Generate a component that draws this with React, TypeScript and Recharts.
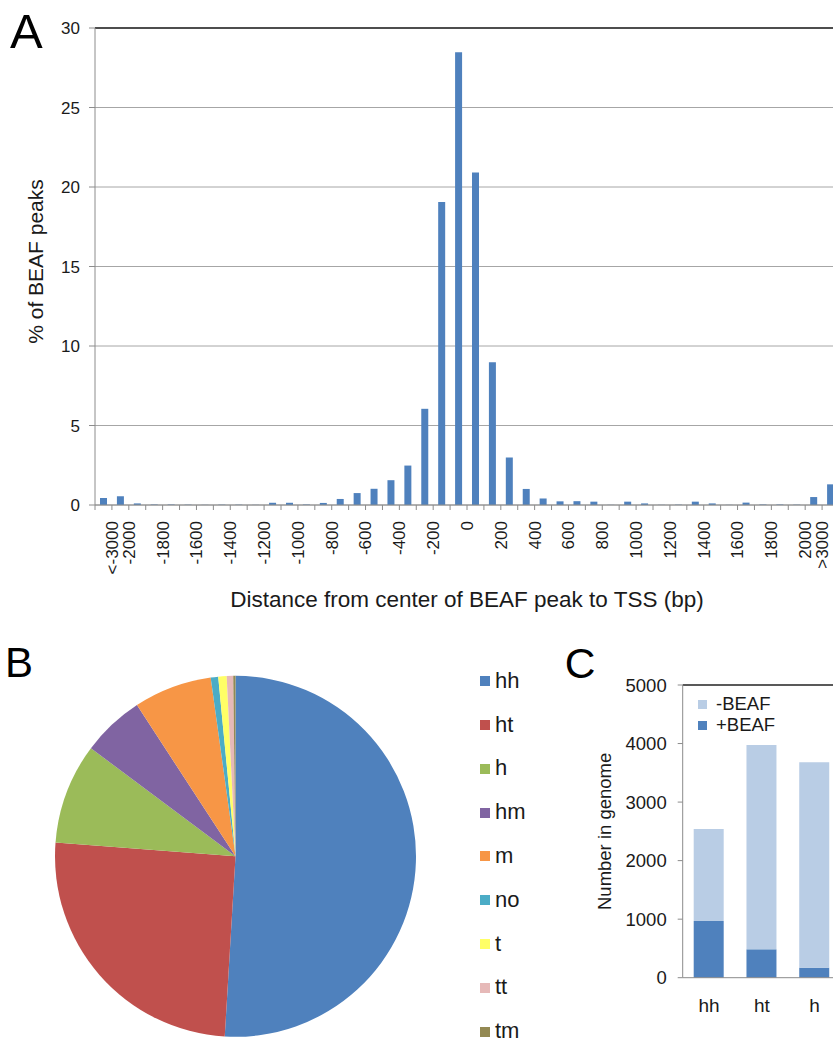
import React from 'react';
import {
  BarChart, Bar, XAxis, YAxis, CartesianGrid, ReferenceLine, Label,
  PieChart, Pie, Cell,
} from 'recharts';

const FONT = '"Liberation Sans", Arial, Helvetica, sans-serif';
const INK = '#1a1a1a';
const AXIS = '#8c8c8c';

// ---------- Panel A data ----------
const distanceBins = [
  '<-3000', '-3000', '-2000', '-1900', '-1800', '-1700', '-1600', '-1500', '-1400', '-1300',
  '-1200', '-1100', '-1000', '-900', '-800', '-700', '-600', '-500', '-400', '-300',
  '-200', '-100', '0', '100', '200', '300', '400', '500', '600', '700',
  '800', '900', '1000', '1100', '1200', '1300', '1400', '1500', '1600', '1700',
  '1800', '1900', '2000', '>3000',
];
const pctPeaks = [
  0.44, 0.55, 0.10, 0.03, 0.03, 0.02, 0.01, 0.02, 0.02, 0.01,
  0.14, 0.14, 0.03, 0.13, 0.38, 0.75, 1.02, 1.56, 2.48, 6.05,
  19.05, 28.48, 20.91, 8.98, 2.98, 1.01, 0.41, 0.23, 0.24, 0.21,
  0.01, 0.21, 0.10, 0.01, 0.02, 0.21, 0.10, 0.01, 0.15, 0.03,
  0.03, 0.02, 0.50, 1.30,
];
// labels drawn at the bin boundaries (45 boundaries for 44 bins)
const tickLabelsA = [
  '', '<-3000', '-2000', '', '-1800', '', '-1600', '', '-1400', '',
  '-1200', '', '-1000', '', '-800', '', '-600', '', '-400', '',
  '-200', '', '0', '', '200', '', '400', '', '600', '',
  '800', '', '1000', '', '1200', '', '1400', '', '1600', '',
  '1800', '', '2000', '>3000', '',
];
const yTicksA = [0, 5, 10, 15, 20, 25, 30];

// ---------- Panel B data ----------
const pieNames = ['hh', 'ht', 'h', 'hm', 'm', 'no', 't', 'tt', 'tm'];
const pieValues = [51.0, 25.3, 9.0, 5.6, 7.0, 0.67, 0.75, 0.58, 0.2];
const pieColors = ['#4f81bd', '#c0504d', '#9bbb59', '#8064a2', '#f79646', '#4bacc6', '#ffff66', '#e6b9b8', '#938953'];

// ---------- Panel C data ----------
const genomeCats = ['hh', 'ht', 'h'];
const plusBeaf = [968, 485, 171];
const totalGenome = [2540, 3975, 3680];
const yTicksC = [0, 1000, 2000, 3000, 4000, 5000];
const legendC = [
  { name: '-BEAF', color: '#b9cde5' },
  { name: '+BEAF', color: '#4f81bd' },
];

const dataA = distanceBins.map((b, i) => ({ bin: b, pos: i + 0.5, pct: pctPeaks[i] }));
const tickIdxA = tickLabelsA.map((_, i) => i);
const dataB = pieNames.map((n, i) => ({ name: n, value: pieValues[i], fill: pieColors[i] }));
const dataC = genomeCats.map((c, i) => ({ cat: c, plus: plusBeaf[i], minus: totalGenome[i] - plusBeaf[i] }));

const RotTick = (props: any) => {
  const { x, y, payload } = props;
  const label = tickLabelsA[payload.value];
  if (!label) return <g />;
  return (
    <text x={x} y={y} transform={`rotate(-90, ${x}, ${y})`} textAnchor="end" dy="0.35em"
      fontSize={17} fill={INK} fontFamily={FONT}>{label}</text>
  );
};

function PanelA() {
  return (
    <BarChart width={839} height={620} data={dataA} margin={{ top: 28, right: 0, bottom: 0, left: 0 }}>
      <CartesianGrid horizontal vertical={false} stroke="#a6a6a6" />
      <XAxis type="number" dataKey="pos" domain={[0, 44]} ticks={tickIdxA} interval={0}
        height={115} tickSize={5} tickMargin={11} tick={RotTick}
        axisLine={{ stroke: AXIS }} tickLine={{ stroke: AXIS }}>
        <Label content={(p: any) => {
          const vb = p.viewBox || { x: 95, y: 505, width: 744, height: 115 };
          return (
            <text x={vb.x + vb.width / 2} y={vb.y + 101.5} textAnchor="middle" fontSize={22.5}
              fill={INK} fontFamily={FONT}>Distance from center of BEAF peak to TSS (bp)</text>
          );
        }} />
      </XAxis>
      <YAxis type="number" domain={[0, 30]} ticks={yTicksA} interval={0} width={95}
        tickSize={6} tickMargin={9} axisLine={{ stroke: AXIS }} tickLine={{ stroke: AXIS }}
        tick={{ fontSize: 17, fill: INK, fontFamily: FONT }}>
        <Label content={(p: any) => {
          const vb = p.viewBox || { x: 0, y: 28, width: 95, height: 477 };
          const tx = vb.x + 42.5;
          const ty = vb.y + vb.height / 2 - 5;
          return (
            <text x={tx} y={ty} transform={`rotate(-90, ${tx}, ${ty})`} textAnchor="middle"
              fontSize={21} fill={INK} fontFamily={FONT}>% of BEAF peaks</text>
          );
        }} />
      </YAxis>
      <ReferenceLine y={30} stroke="#222" strokeWidth={1.5} />
      <Bar dataKey="pct" fill="#4f81bd" barSize={7} isAnimationActive={false} />
    </BarChart>
  );
}

function PanelB() {
  return (
    <div style={{ position: 'relative', width: 560, height: 402 }}>
      <PieChart width={470} height={402} margin={{ top: 0, right: 0, bottom: 0, left: 0 }}>
        <Pie data={dataB} dataKey="value" nameKey="name" cx={235.5} cy={216.3} outerRadius={180.5}
          startAngle={90} endAngle={-270} stroke="none" isAnimationActive={false}>
          {dataB.map((d) => <Cell key={d.name} fill={d.fill} stroke="none" />)}
        </Pie>
      </PieChart>
      <div style={{ position: 'absolute', left: 480, top: 19.3, width: 80 }}>
        {pieNames.map((n, i) => (
          <div key={n} style={{ height: 43.8, display: 'flex', alignItems: 'center' }}>
            <span style={{ display: 'inline-block', width: 10, height: 10, background: pieColors[i], marginRight: 5 }} />
            <span style={{ fontSize: 22, lineHeight: 0.85, color: INK, fontFamily: FONT }}>{n}</span>
          </div>
        ))}
      </div>
    </div>
  );
}

function PanelC() {
  return (
    <div style={{ position: 'relative', width: 281, height: 402 }}>
      <BarChart width={281} height={402} data={dataC} margin={{ top: 45, right: 0, bottom: 0, left: 0 }}>
        <XAxis dataKey="cat" height={64.3} tickLine={false} tickSize={0} tickMargin={21}
          axisLine={{ stroke: AXIS }} tick={{ fontSize: 19, fill: INK, fontFamily: FONT }} />
        <YAxis type="number" domain={[0, 5000]} ticks={yTicksC} interval={0} width={122.7}
          tickSize={5} tickMargin={11} axisLine={{ stroke: AXIS }} tickLine={{ stroke: AXIS }}
          tick={{ fontSize: 18.5, fill: INK, fontFamily: FONT }}>
          <Label content={(p: any) => {
            const vb = p.viewBox || { x: 0, y: 45, width: 122.7, height: 292.7 };
            const tx = vb.x + 51;
            const ty = vb.y + vb.height / 2;
            return (
              <text x={tx} y={ty} transform={`rotate(-90, ${tx}, ${ty})`} textAnchor="middle"
                fontSize={18.5} fill={INK} fontFamily={FONT}>Number in genome</text>
            );
          }} />
        </YAxis>
        <ReferenceLine y={5000} stroke="#222" strokeWidth={1.5} />
        <Bar dataKey="plus" stackId="s" fill="#4f81bd" barSize={30} isAnimationActive={false} />
        <Bar dataKey="minus" stackId="s" fill="#b9cde5" barSize={30} isAnimationActive={false} />
      </BarChart>
      <div style={{ position: 'absolute', left: 138, top: 54, width: 120 }}>
        {legendC.map((e) => (
          <div key={e.name} style={{ height: 20.7, display: 'flex', alignItems: 'center' }}>
            <span style={{ display: 'inline-block', width: 9, height: 9, background: e.color, marginRight: 9 }} />
            <span style={{ fontSize: 18.5, lineHeight: 1, color: INK, fontFamily: FONT }}>{e.name}</span>
          </div>
        ))}
      </div>
    </div>
  );
}

export default function App() {
  return (
    <div style={{ position: 'fixed', left: 0, top: 0, width: 833, height: 1042, overflow: 'hidden', background: '#fff', fontFamily: FONT }}>
      <div style={{ position: 'absolute', left: 0, top: 0 }}><PanelA /></div>
      <div style={{ position: 'absolute', left: 0, top: 640 }}><PanelB /></div>
      <div style={{ position: 'absolute', left: 560, top: 640 }}><PanelC /></div>
      <svg style={{ position: 'absolute', left: 0, top: 0, pointerEvents: 'none' }} width={833} height={1042}>
        <text x={10} y={48.3} fontSize={49} fill="#000" fontFamily={FONT}>A</text>
        <text x={5} y={676.7} fontSize={42} fill="#000" fontFamily={FONT}>B</text>
        <text x={564.7} y={677.8} fontSize={42.5} fill="#000" fontFamily={FONT}>C</text>
      </svg>
    </div>
  );
}
